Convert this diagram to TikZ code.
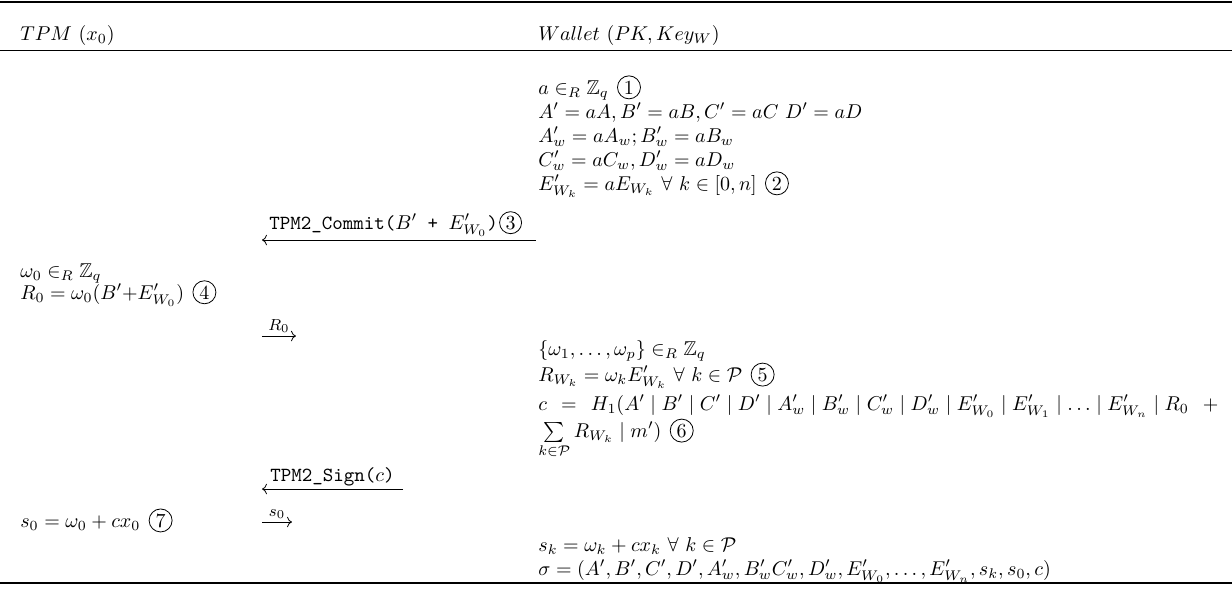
\documentclass[tikz,border=0pt]{standalone}
\usepackage{amsmath,amssymb}
\usepackage{tikz}
\usetikzlibrary{arrows.meta}

\begin{document}
\begin{tikzpicture}[
    line/.style={anchor=base west, inner sep=0pt},
    stepmark/.style={draw, circle, line width=0.4pt, inner sep=0pt,
        minimum size=11.5pt, anchor=base west},
    msgarrow/.style={-{Computer Modern Rightarrow}, line width=0.4pt},
    msglabel/.style={inner sep=1.5pt}
]
    \useasboundingbox (0,0) rectangle (21.65,10.386);

    % Rules
    \draw[line width=0.8pt] (0,10.35) -- (21.65,10.35);
    \draw[line width=0.5pt] (0,9.507) -- (21.65,9.507);
    \draw[line width=0.8pt] (0,0.141) -- (21.65,0.141);

    % Header
    \node[line] (tpmhead) at (0.351,9.682) {$TPM\ (x_0)$};
    \node[line] (wallethead) at (9.454,9.682) {$Wallet\ (PK, Key_W)$};

    % Wallet: blinding
    \node[line] (blind1) at (9.454,8.734) {$a \in_R \mathbb{Z}_q$};
    \node[stepmark] (n1) at ([xshift=4pt]blind1.base east) {1};
    \node[line] (blind2) at (9.454,8.312) {$A' = aA, B' = aB, C' = aC\ D' = aD$};
    \node[line] (blind3) at (9.454,7.890) {$A'_w = aA_w; B'_w = aB_w$};
    \node[line] (blind4) at (9.454,7.468) {$C'_w = aC_w, D'_w = aD_w$};
    \node[line] (blind5) at (9.454,7.047) {$E'_{W_k} = aE_{W_k}\ \forall\ k \in [0,n]$};
    \node[stepmark] (n2) at ([xshift=4pt]blind5.base east) {2};

    % Commit
    \coordinate (commitW) at (9.419,6.168);
    \coordinate (commitT) at (4.604,6.168);
    \draw[msgarrow] (commitW) -- (commitT)
        node[msglabel, pos=1, anchor=south west, xshift=2pt] (commitlbl)
        {\ttfamily TPM2\_Commit($B'$ + $E'_{W_0}$)};
    \node[stepmark, minimum size=11pt] (n3)
        at ([xshift=-1pt]commitlbl.base east) {3};

    % TPM: nonce
    \node[line] (tpm1) at (0.351,5.518) {$\omega_0 \in_R \mathbb{Z}_q$};
    \node[line] (tpm2) at (0.351,5.131) {$R_0 = \omega_0(B'{+}E'_{W_0})$};
    \node[stepmark] (n4) at ([xshift=4pt]tpm2.base east) {4};

    \coordinate (r0T) at (4.604,4.481);
    \coordinate (r0W) at (5.201,4.481);
    \draw[msgarrow] (r0T) -- (r0W)
        node[msglabel, font=\footnotesize, midway, above] (r0lbl) {$R_0$};

    % Wallet: challenge
    \node[line] (chal1) at (9.454,4.147) {$\{\omega_1, \ldots, \omega_p\} \in_R \mathbb{Z}_q$};
    \node[line] (chal2) at (9.454,3.690) {$R_{W_k} = \omega_k E'_{W_k}\ \forall\ k \in \mathcal{P}$};
    \node[stepmark] (n5) at ([xshift=4pt]chal2.base east) {5};
    \node[line] (chal3) at (9.454,3.181) {\hbox to 11.95cm{$c$\hfill$=$\hfill
        $H_1(A' \mid B' \mid C' \mid D' \mid A'_w \mid B'_w \mid C'_w \mid D'_w \mid
        E'_{W_0} \mid E'_{W_1} \mid \ldots \mid E'_{W_n} \mid R_0$\hspace{7pt}$+$}};
    \node[line] (chal4) at (9.454,2.706) {$\sum\limits_{k \in \mathcal{P}} R_{W_k} \mid m')$};
    \node[stepmark] (n6) at ([xshift=4pt]chal4.base east) {6};

    % Sign
    \coordinate (signW) at (7.082,1.792);
    \coordinate (signT) at (4.604,1.792);
    \draw[msgarrow] (signW) -- (signT)
        node[msglabel, midway, above] (signlbl) {\ttfamily TPM2\_Sign($c$)};

    % TPM: response
    \node[line] (tpm3) at (0.351,1.125) {$s_0 = \omega_0 + cx_0$};
    \node[stepmark] (n7) at ([xshift=4pt]tpm3.base east) {7};

    \coordinate (s0T) at (4.604,1.213);
    \coordinate (s0W) at (5.131,1.213);
    \draw[msgarrow] (s0T) -- (s0W)
        node[msglabel, font=\footnotesize, midway, above] (s0lbl) {$s_0$};

    % Wallet: signature
    \node[line] (sig1) at (9.454,0.703) {$s_k = \omega_k + cx_k\ \forall\ k \in \mathcal{P}$};
    \node[line] (sig2) at (9.454,0.281) {$\sigma = (A', B', C', D', A'_w, B'_w C'_w, D'_w, E'_{W_0}, \ldots, E'_{W_n}, s_k, s_0, c)$};
\end{tikzpicture}
\end{document}
